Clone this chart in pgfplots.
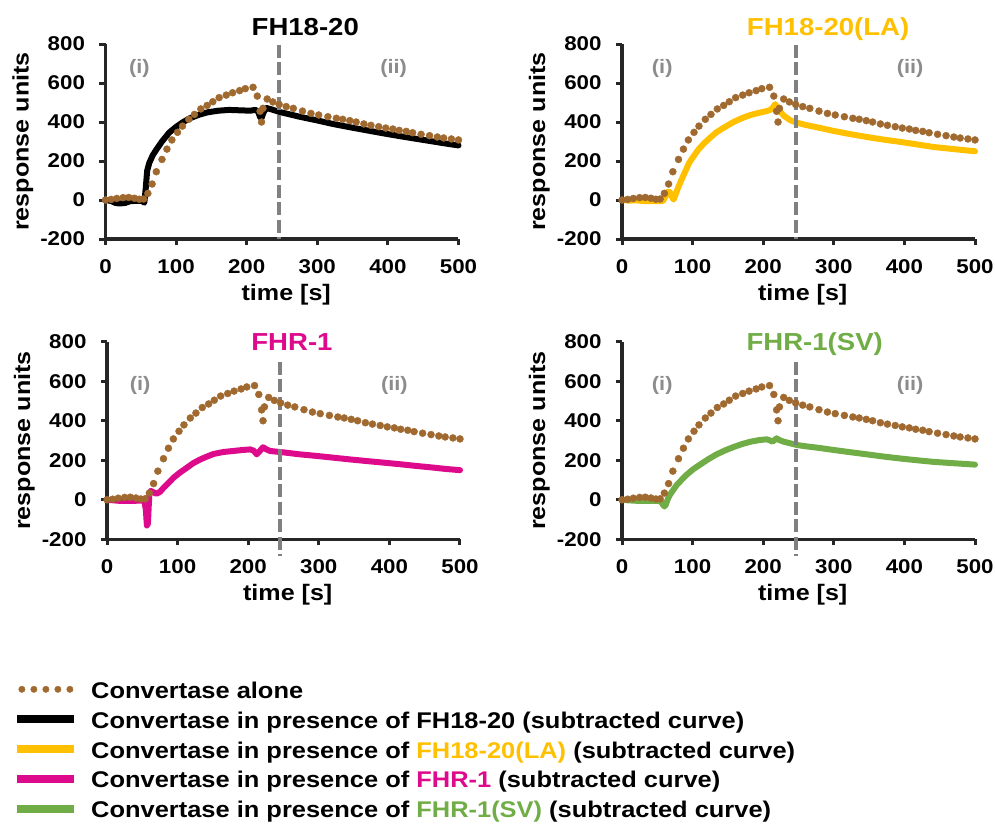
\documentclass[border=0pt]{standalone}
\usepackage{pgfplots}
\pgfplotsset{compat=1.18}
\usepackage{pgfplotstable}
\usepackage{fontspec}
\setmainfont{Liberation Sans}[FakeStretch=1.12]
\definecolor{conv}{HTML}{A0692F}
\definecolor{fhyellow}{HTML}{FFC000}
\definecolor{fhmag}{HTML}{DE0A8C}
\definecolor{fhgreen}{HTML}{70AD47}
\definecolor{axc}{HTML}{262626}
\definecolor{dashc}{HTML}{808080}
\definecolor{romc}{HTML}{8C8C8C}

\pgfplotstableread{
x y
0 0
8 3
16 8
25 12
33 13
41 9
48 4
54 5
60 34
66 82
72 145
80 208
87 261
94 308
102 347
109 379
118 414
126 439
135 467
144 485
152 504
161 525
171 538
180 550
190 561
198 571
209 578
215 533
219 455
221 400
223 470
229 518
237 503
246 490
256 479
266 470
279 456
291 444
302 436
315 427
327 419
336 414
346 407
355 400
366 390
376 383
387 376
397 369
407 364
416 357
426 352
435 345
447 337
459 330
470 323
479 318
490 313
500 308
}\conv

\pgfplotstableread{
x y
0 0
8 -5
14 -15
20 -18
28 -15
35 -6
45 -4
52 -5
55 -14
57 60
59 150
62 190
67 230
72 258
80 300
90 345
100 375
110 400
120 420
133 438
145 450
160 458
175 462
190 460
205 458
212 462
216 455
219 425
221 420
224 450
228 472
235 465
246 452
260 440
275 427
300 408
322 390
345 374
369 358
392 343
416 328
440 314
464 300
485 288
500 280
}\fhblack

\pgfplotstableread{
x y
0 0
10 -3
20 -2
30 -5
40 -6
50 -6
58 -5
62 20
65 42
68 40
71 15
73 2
75 20
80 68
85 110
90 150
95 190
101 222
108 258
116 290
125 320
134 348
146 375
158 400
170 420
182 436
195 448
205 456
210 462
214 475
217 492
220 470
224 452
230 430
238 410
246 398
260 385
276 373
300 354
323 338
347 323
370 310
394 298
418 285
441 272
470 261
500 250
}\fhla

\pgfplotstableread{
x y
0 0
10 -3
20 -6
30 -6
40 -5
50 -4
53 -5
55 -50
56.5 -130
58 -120
59 -40
60 30
62 45
66 38
70 30
75 40
80 60
87 85
94 111
103 137
113 162
122 185
132 204
141 218
151 232
165 242
179 247
192 252
203 255
208 248
212 230
216 245
221 266
226 255
231 247
250 240
273 230
297 222
321 213
345 204
368 196
392 188
415 180
439 171
462 163
480 156
500 150
}\fhr

\pgfplotstableread{
x y
0 0
10 -3
20 -5
30 -5
40 -6
50 -6
55 -8
58 -25
60 -34
62 -25
65 5
68 26
73 52
78 77
85 103
92 128
101 155
111 179
122 205
134 230
146 250
158 267
170 282
182 294
194 302
205 306
210 300
213 294
216 302
219 311
223 302
229 294
238 286
248 277
262 270
276 264
300 252
323 241
347 230
370 219
394 209
418 200
441 192
470 185
500 178
}\fhrsv

\tikzset{
  curve/.style={line width=6bp, line join=round, line cap=round},
  dashv/.style={draw=dashc, line width=4bp, dash pattern=on 13bp off 4.5bp},
  roman/.style={font=\fontsize{19.5}{22}\selectfont\bfseries, text=romc},
  ttl/.style={font=\fontsize{24.7}{28}\selectfont\bfseries, anchor=base},
}
\pgfplotsset{
  panel/.style={
    scale only axis, width=353bp,
    xmin=0, xmax=500, ymin=-200, ymax=800,
    axis x line*=bottom, axis y line*=left,
    axis line style={line width=3.5bp, draw=axc},
    xtick={0,100,...,500}, ytick={-200,0,...,800},
    every tick/.style={line width=3bp, draw=axc},
    major tick length=6bp, tick align=outside,
    /pgf/number format/assume math mode=true,
    ticklabel style={font=\fontsize{20}{22}\selectfont\bfseries, text=black},
    xticklabel style={yshift=-11bp},
    yticklabel style={xshift=-11bp},
    label style={font=\fontsize{22.5}{26}\selectfont\bfseries, text=black},
    xlabel={time [s]}, ylabel={response units},
    xlabel style={at={(axis description cs:0.512,0)}, anchor=base, yshift=-61bp},
    ylabel style={at={(axis description cs:-0.218,0.5)}, anchor=base},
    clip=false,
  },
  dots/.style={only marks, mark=*, mark size=3.5bp, color=conv, mark options={solid, draw=conv, fill=conv}},
}

\begin{document}
\begin{tikzpicture}
\path[use as bounding box] (0bp,0bp) rectangle (995bp,-824bp);

% Panel 1
\begin{axis}[panel, at={(105.5bp,-239bp)}, anchor=south west, height=195bp]
\addplot[curve, black] table {\fhblack};
\addplot[dots] table {\conv};
\addplot[dashv] coordinates {(246,795) (246,-200)};
\node[roman] at (axis cs:48,677) {(i)};
\node[roman] at (axis cs:408,677) {(ii)};
\node[ttl, text=black] at (axis cs:283,846) {FH18-20};
\end{axis}

% Panel 2
\begin{axis}[panel, at={(622bp,-239bp)}, anchor=south west, height=195bp]
\addplot[curve, fhyellow] table {\fhla};
\addplot[dots] table {\conv};
\addplot[dashv] coordinates {(246,795) (246,-200)};
\node[roman] at (axis cs:57,677) {(i)};
\node[roman] at (axis cs:408,677) {(ii)};
\node[ttl, text=fhyellow] at (axis cs:292,846) {FH18-20(LA)};
\end{axis}

% Panel 3
\begin{axis}[panel, at={(107bp,-539.3bp)}, anchor=south west, height=197.6bp,
  legend style={at={(axis description cs:-0.255,-0.725)}, anchor=north west,
    draw=none, fill=none, inner sep=0pt, outer sep=0pt,
    font=\fontsize{22.8}{26}\selectfont\bfseries,
    nodes={inner sep=0pt, text height=16bp, text depth=4.5bp},
    row sep=9.3bp, column sep=0pt},
  legend cell align=left]
\addplot[curve, fhmag, forget plot] table {\fhr};
\addplot[dots, forget plot] table {\conv};
\addplot[dashv, forget plot] coordinates {(245,699) (245,-284)};
\node[roman] at (axis cs:47,581) {(i)};
\node[roman] at (axis cs:407,581) {(ii)};
\node[ttl, text=fhmag] at (axis cs:262,754) {FHR-1};
\addlegendimage{legend image code/.code={\path[draw=none] (0bp,0bp) -- (74bp,0bp);
   \fill[conv] (4.7bp,3.5bp) circle (3.2bp) (16.7bp,3.5bp) circle (3.2bp) (28.7bp,3.5bp) circle (3.2bp) (40.7bp,3.5bp) circle (3.2bp) (52.7bp,3.5bp) circle (3.2bp);}}
\addlegendentry{Convertase alone}
\addlegendimage{legend image code/.code={\path[draw=none] (0bp,0bp) -- (74bp,0bp);\fill[black] (0bp,0bp) rectangle (56bp,7bp);}}
\addlegendentry{Convertase in presence of FH18-20 (subtracted curve)}
\addlegendimage{legend image code/.code={\path[draw=none] (0bp,0bp) -- (74bp,0bp);\fill[fhyellow] (0bp,0bp) rectangle (56bp,7bp);}}
\addlegendentry{Convertase in presence of \textcolor{fhyellow}{FH18-20(LA)} (subtracted curve)}
\addlegendimage{legend image code/.code={\path[draw=none] (0bp,0bp) -- (74bp,0bp);\fill[fhmag] (0bp,0bp) rectangle (56bp,7bp);}}
\addlegendentry{Convertase in presence of \textcolor{fhmag}{FHR-1} (subtracted curve)}
\addlegendimage{legend image code/.code={\path[draw=none] (0bp,0bp) -- (74bp,0bp);\fill[fhgreen] (0bp,0bp) rectangle (56bp,7bp);}}
\addlegendentry{Convertase in presence of \textcolor{fhgreen}{FHR-1(SV)} (subtracted curve)}
\end{axis}

% Panel 4
\begin{axis}[panel, at={(622bp,-539.3bp)}, anchor=south west, height=197.6bp]
\addplot[curve, fhgreen] table {\fhrsv};
\addplot[dots] table {\conv};
\addplot[dashv] coordinates {(246,699) (246,-284)};
\node[roman] at (axis cs:57,581) {(i)};
\node[roman] at (axis cs:408,581) {(ii)};
\node[ttl, text=fhgreen] at (axis cs:273,754) {FHR-1(SV)};
\end{axis}
\end{tikzpicture}
\end{document}
